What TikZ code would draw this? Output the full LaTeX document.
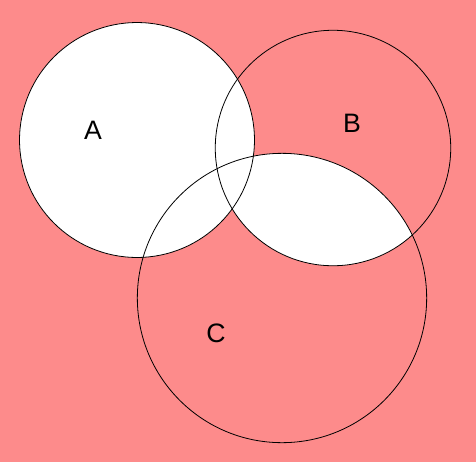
\documentclass[tikz,border=0pt]{standalone}
\usepackage{fontspec}
\setmainfont{Liberation Sans}
\definecolor{cBack}{RGB}{253,139,139}
\tikzset{
  setline/.style={black, line width=0.6pt},
  setlabel/.style={inner sep=0pt, font=\fontsize{20}{22}\selectfont}
}

\begin{document}
\begin{tikzpicture}[x=0.75pt, y=-0.75pt]
% 1 unit = 1 px of the 476 x 462 frame, y downwards
\fill[cBack] (0,0) rectangle (476,462);
\useasboundingbox (0,0) rectangle (476,462);
\coordinate (cA) at (137,140);
\coordinate (cB) at (333,148);
\coordinate (cC) at (282,298);
% white: all of A, and B with C
\fill[white] (cA) circle (88.1pt);
\begin{scope}
  \clip (cB) circle (88.3pt);
  \fill[white] (cC) circle (108.5pt);
\end{scope}
\draw[setline] (cA) circle (88.1pt);
\draw[setline] (cB) circle (88.3pt);
\draw[setline] (cC) circle (108.5pt);
\node[setlabel] (labA) at (93,130) {A};
\node[setlabel] (labB) at (352,123) {B};
\node[setlabel] (labC) at (216,333) {C};
\end{tikzpicture}
\end{document}
